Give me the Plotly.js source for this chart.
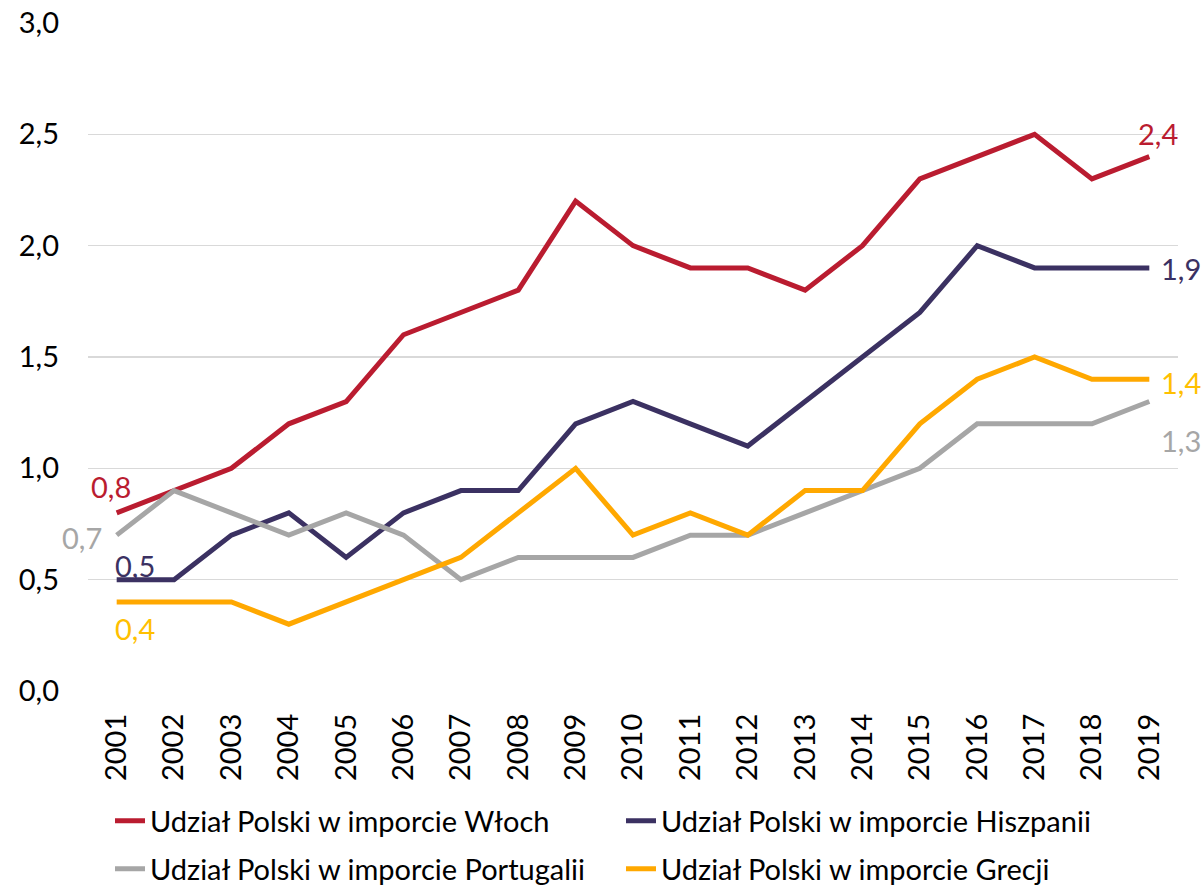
<!DOCTYPE html>
<html><head><meta charset="utf-8">
<script src="https://cdn.plot.ly/plotly-3.0.1.min.js"></script>
<style>html,body{margin:0;padding:0;background:#fff}#chart{width:1203px;height:890px}</style>
</head><body><div id="chart"></div>
<script>
const years = ['2001','2002','2003','2004','2005','2006','2007','2008','2009','2010','2011','2012','2013','2014','2015','2016','2017','2018','2019'];
const wlochy = [0.8,0.9,1.0,1.2,1.3,1.6,1.7,1.8,2.2,2.0,1.9,1.9,1.8,2.0,2.3,2.4,2.5,2.3,2.4];
const hiszpania = [0.5,0.5,0.7,0.8,0.6,0.8,0.9,0.9,1.2,1.3,1.2,1.1,1.3,1.5,1.7,2.0,1.9,1.9,1.9];
const portugalia = [0.7,0.9,0.8,0.7,0.8,0.7,0.5,0.6,0.6,0.6,0.7,0.7,0.8,0.9,1.0,1.2,1.2,1.2,1.3];
const grecja = [0.4,0.4,0.4,0.3,0.4,0.5,0.6,0.8,1.0,0.7,0.8,0.7,0.9,0.9,1.2,1.4,1.5,1.4,1.4];
const names = ['Udział Polski w imporcie Włoch','Udział Polski w imporcie Hiszpanii','Udział Polski w imporcie Portugalii','Udział Polski w imporcie Grecji'];
const colors = ['#BA1C30','#3B3162','#A6A6A6','#FFA800'];
const labelColors = ['#BA1C30','#3B3162','#A6A6A6','#FFC000'];
const series = [wlochy, hiszpania, portugalia, grecja];
const FONT = 'Lato, "Open Sans", sans-serif';
const FS = 29;

const traces = series.map((s,i)=>({
  x: years, y: s, type:'scatter', mode:'lines', name: names[i],
  legend: i < 2 ? 'legend' : 'legend2',
  line:{color:colors[i], width:5}
}));

const fmt = v => v.toFixed(1).replace('.', ',');
// [series index, point index, xshift, yshift]
const labelPos = [
  [0,0,-6,26],[0,18,9,23],
  [1,0,18,14],[1,18,32,-1],
  [2,0,-35,-2],[2,18,32,-39],
  [3,0,18,-27],[3,18,32,-3]
];
const annotations = labelPos.map(([si,pi,xs,ys])=>({
  x: pi, y: series[si][pi], xref:'x', yref:'y',
  text: fmt(series[si][pi]), showarrow:false, xshift:xs, yshift:ys,
  font:{family:FONT, size:FS, color:labelColors[si]}
}));

const legendBase = {orientation:'h', xref:'container', yref:'container', x:110/1203, xanchor:'left',
  entrywidth:466, entrywidthmode:'pixels', font:{family:FONT, size:FS, color:'#000'},
  itemwidth:30, bgcolor:'rgba(0,0,0,0)', borderwidth:0};

const layout = {
  width:1203, height:890,
  margin:{l:88, r:25, t:23, b:199},
  paper_bgcolor:'#fff', plot_bgcolor:'#fff',
  separators:', ',
  showlegend:true,
  font:{family:FONT, size:FS, color:'#000'},
  xaxis:{type:'category', range:[-0.5, years.length-0.5], tickangle:-90, showgrid:false, showline:false, zeroline:false,
    ticks:'', ticklabelstandoff:16, tickfont:{family:FONT, size:FS, color:'#000'}, automargin:false},
  yaxis:{range:[0,3], dtick:0.5, tickformat:'.1f', showgrid:true, gridcolor:'#D9D9D9', gridwidth:1.5,
    zeroline:false, showline:false, ticks:'', ticklabelstandoff:28, tickfont:{family:FONT, size:FS, color:'#000'}, automargin:false},
  legend: Object.assign({}, legendBase, {y:1-821/890, yanchor:'middle'}),
  legend2: Object.assign({}, legendBase, {y:1-869/890, yanchor:'middle'}),
  annotations
};
Plotly.newPlot('chart', traces, layout, {displayModeBar:false, staticPlot:true});
</script></body></html>
